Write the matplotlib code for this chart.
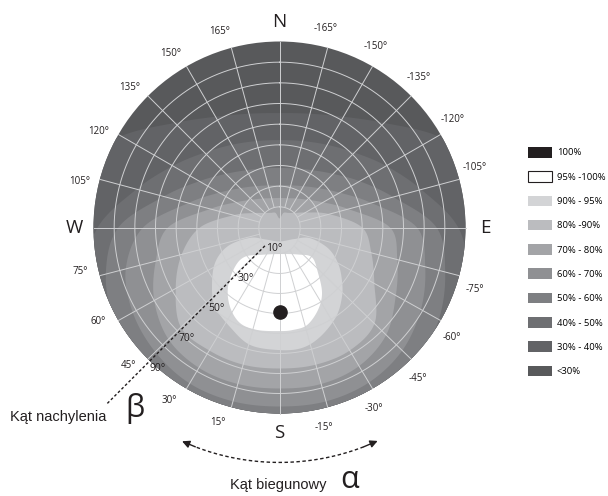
import numpy as np
import matplotlib
matplotlib.use("Agg")
import matplotlib.pyplot as plt
from matplotlib.patches import Circle, Polygon, Patch

# ---- data -----------------------------------------------------------------
# azimuth (0 = S, 90 = W, -90 = E, 180 = N) and tilt of the band borders
azimuth = [-180, -165, -150, -135, -120, -105, -90, -75, -60, -45, -30, -15,
           0, 15, 30, 45, 60, 75, 90, 105, 120, 135, 150, 165]

# tilt where the relative yield falls below the given level (>90 = off the disc)
tilt_30 = [55.4, 57, 61.9, 71.6, 88.5, 110, 120, 120, 120, 120, 120, 120,
           120, 120, 120, 120, 120, 120, 120, 110, 88.5, 71.6, 61.9, 57]
tilt_40 = [42.3, 43.3, 46.2, 51.3, 59.6, 71, 86.5, 95, 105, 110, 110, 110,
           110, 110, 110, 110, 105, 98, 88, 71.6, 59.6, 51.3, 46.2, 43.3]
tilt_50 = [28.8, 29.6, 32, 36.7, 44.8, 57, 76, 83, 89, 93, 96, 96,
           96, 96, 96, 95, 92, 87, 78, 58, 44.8, 36.7, 32, 29.6]
tilt_60 = [20.6, 21.1, 23.1, 26.9, 33.7, 46, 66.5, 73, 79, 84, 86.5, 87,
           86.5, 87, 87, 85, 82, 77, 66, 45.7, 33.7, 26.9, 23.1, 21.1]
tilt_70 = [14.3, 14.7, 16.2, 19, 24.4, 34.5, 53.5, 59, 65, 73, 77, 78,
           77.5, 78, 78, 76, 70, 62, 54, 34.7, 24.4, 19, 16.2, 14.7]
tilt_80 = [4.4, 7.3, 8.2, 9.9, 14.5, 25, 40, 46, 53, 65, 68, 68,
           67.5, 68, 68, 67.5, 58, 49, 38.5, 23, 14, 9.9, 8.2, 7.3]

# closed borders of the two inner bands (tilt, azimuth)
tilt_90 = [58.3, 57.6, 52.8, 48.7, 42.9, 35.2, 26.3, 14.9, 8.3, 4.0, 8.5,
           15.4, 25.2, 32.6, 38.8, 44.4, 50.3, 55.5, 58.3]
az_90 = [0, 14.3, 27, 39.8, 49.6, 62.4, 71.5, 73.2, 58.2, 0, -60,
         -73.2, -68.5, -60.1, -51.1, -42.9, -32.9, -20.7, -10.8]
tilt_95 = [48.8, 49.5, 48.9, 44.2, 37.1, 27.9, 21, 14.1, 10.3, 14.3, 20.4,
           27.7, 36.6, 42.8, 47.8, 48.7]
az_95 = [0, 12.7, 23, 32.8, 42.2, 50.5, 52.5, 37, 0, -38.6, -50.3,
         -42.3, -34.2, -25.8, -16.2, -7.7]

best_tilt, best_az = 39.3, 0

legend_labels = ["100%", "95% -100%", "90% - 95%", "80% -90%", "70% - 80%",
                 "60% - 70%", "50% - 60%", "40% - 50%", "30% - 40%", "<30%"]
legend_colors = ["#231f20", "#ffffff", "#d3d4d6", "#bbbcbf", "#a3a4a7",
                 "#8f9093", "#7e7f82", "#6e6f72", "#626366", "#58595b"]

az_ticks = [165, 150, 135, 120, 105, 75, 60, 45, 30, 15,
            -15, -30, -45, -60, -75, -105, -120, -135, -150, -165]
compass = {"N": 180, "S": 0, "W": 90, "E": -90}
tilt_ticks = [10, 30, 50, 70, 90]

H = 0.032  # the lower half of the grid hangs slightly below the centre


def proj(beta, az):
    r = np.asarray(beta, float) / 90.0
    a = np.radians(az)
    x = -r * np.sin(a)
    y = np.where(np.cos(a) > 0, -(H * (1 - r) + r) * np.cos(a), -r * np.cos(a))
    return x, y


def closed_spline(x, y, n=24):
    p = np.column_stack([x, y])
    m = len(p)
    t = np.linspace(0, 1, n, endpoint=False)[:, None]
    out = []
    for i in range(m):
        p0, p1, p2, p3 = p[i - 1], p[i], p[(i + 1) % m], p[(i + 2) % m]
        out.append(0.5 * (2 * p1 + (p2 - p0) * t
                          + (2 * p0 - 5 * p1 + 4 * p2 - p3) * t ** 2
                          + (3 * p1 - p0 - 3 * p2 + p3) * t ** 3))
    return np.vstack(out)


fig = plt.figure(figsize=(6.08, 4.96), dpi=100)
ax = fig.add_axes([0, 0, 1, 1])
ax.set_xlim(-279.5 / 186, 328.5 / 186)
ax.set_ylim(-268.5 / 186, 227.5 / 186)
ax.axis("off")

disk = Circle((0, 0), 1, facecolor=legend_colors[-1], edgecolor="none", zorder=1)
ax.add_patch(disk)

# shaded bands
outer = [tilt_30, tilt_40, tilt_50, tilt_60, tilt_70, tilt_80]
for tilt, col in zip(outer, legend_colors[8:2:-1]):
    pts = closed_spline(*proj(tilt, azimuth))
    poly = Polygon(pts, closed=True, facecolor=col, edgecolor="none", zorder=2)
    ax.add_patch(poly)
    poly.set_clip_path(disk)

for tilt, az, col in [(tilt_90, az_90, legend_colors[2]), (tilt_95, az_95, legend_colors[1])]:
    pts = closed_spline(*proj(tilt, az))
    poly = Polygon(pts, closed=True, facecolor=col, edgecolor="none", zorder=2)
    ax.add_patch(poly)
    poly.set_clip_path(disk)

# grid
gc = "#cfd0d2"
aa = np.linspace(-180, 180, 721)
for b in range(10, 90, 10):
    ax.plot(*proj(b, aa), color=gc, lw=0.7, zorder=3)
bb = np.linspace(10, 90, 60)
for a in range(-165, 180, 15):
    if a in (0, 90, -90):
        continue
    ax.plot(*proj(bb, a), color=gc, lw=0.7, zorder=3)
ax.plot([0, 0], [-1, 1], color=gc, lw=0.7, zorder=3)
ax.plot([-1, 1], [0, 0], color=gc, lw=0.7, zorder=3)

# optimum
bx, by = proj(best_tilt, best_az)
ax.plot(bx, by, "o", ms=9.5, color="#231f20", zorder=5)

# tilt scale along the dashed line
sx, sy = proj(10, 45)
ax.plot([sx, sx - 1.2 * 0.7071], [sy, sy - 1.2 * 0.7071], color="#231f20",
        lw=1, ls=(0, (2, 1.6)), zorder=4)
for t in tilt_ticks:
    tx, ty = proj(t, 45)
    ax.annotate(f"{t}°", (tx, ty), xytext=(7, -(1.4 + t / 16)), textcoords="offset points",
                ha="center", va="center", fontsize=7.5, color="#231f20",
                family=["Open Sans", "DejaVu Sans"], zorder=6)

# azimuth labels
for a in az_ticks:
    off = 2.5 if abs(a) < 90 else -2
    lx = -1.10 * np.sin(np.radians(a + off))
    ly = -1.10 * np.cos(np.radians(a + off))
    ax.text(lx, ly, f"{a}°", ha="center", va="center", fontsize=7,
            color="#231f20", family=["Open Sans", "DejaVu Sans"])
for name, a in compass.items():
    ax.text(-1.105 * np.sin(np.radians(a)), -1.105 * np.cos(np.radians(a)), name,
            ha="center", va="center", fontsize=13.5, color="#231f20",
            family=["Open Sans", "DejaVu Sans"])

# azimuth arrow below the disc
arc = np.radians(np.linspace(-21, 21, 80))
ax.plot(-1.263 * np.sin(arc), -1.263 * np.cos(arc), color="#231f20", lw=1,
        ls=(0, (2.5, 1.8)))
for a0, a1 in [(21, 24.5), (-21, -24.7)]:
    r0, r1 = np.radians(a0), np.radians(a1)
    ax.annotate("", xy=(-1.263 * np.sin(r1), -1.263 * np.cos(r1)),
                xytext=(-1.263 * np.sin(r0), -1.263 * np.cos(r0)),
                arrowprops=dict(arrowstyle="-|>", color="#231f20", lw=1,
                                mutation_scale=11, shrinkA=0, shrinkB=0))

ax.text(-1.191, -1.019, "Kąt nachylenia", ha="center", va="center",
        fontsize=10.5, family=["Liberation Sans", "DejaVu Sans"], color="#231f20")
ax.text(-0.777, -0.975, "β", ha="center", va="center", fontsize=22,
        family=["Open Sans", "DejaVu Sans"], color="#231f20")
ax.text(-0.008, -1.384, "Kąt biegunowy", ha="center", va="center",
        fontsize=10.5, family=["Liberation Sans", "DejaVu Sans"], color="#231f20")
ax.text(0.379, -1.36, "α", ha="center", va="center", fontsize=22,
        family=["Open Sans", "DejaVu Sans"], color="#231f20")

# legend
handles = []
for lab, col in zip(legend_labels, legend_colors):
    if col == "#ffffff":
        handles.append(Patch(facecolor=col, edgecolor="#231f20", linewidth=0.8, label=lab))
    else:
        handles.append(Patch(facecolor=col, edgecolor="none", label=lab))
fig.legend(handles=handles, loc="upper left", bbox_to_anchor=(527.7 / 608, 1 - 147 / 496),
           frameon=False, borderpad=0, borderaxespad=0,
           handlelength=2.55, handleheight=1.35, labelspacing=1.45,
           handletextpad=0.55, prop={"family": ["Open Sans", "DejaVu Sans"], "size": 6.8})

fig.savefig("out.png", dpi=100)
